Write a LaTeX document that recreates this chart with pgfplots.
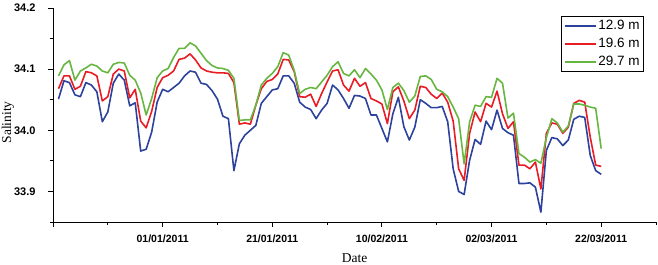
\documentclass[border=0pt]{standalone}
\usepackage{fontspec}
\setmainfont{Liberation Serif}
\newfontfamily\arial{Liberation Sans}
\usepackage{pgfplots}
\usepackage{pgfplotstable}
\pgfplotsset{compat=1.18}
\definecolor{cblue}{RGB}{44,66,156}
\definecolor{cred}{RGB}{232,28,36}
\definecolor{cgreen}{RGB}{104,182,66}
\pgfplotstableread{
d b r g
-19 34.051 34.068 34.089
-18 34.081 34.089 34.107
-17 34.078 34.089 34.114
-16 34.058 34.067 34.082
-15 34.055 34.072 34.097
-14 34.078 34.096 34.102
-13 34.074 34.094 34.108
-12 34.063 34.089 34.105
-11 34.014 34.048 34.097
-10 34.030 34.055 34.094
-9 34.077 34.092 34.108
-8 34.092 34.100 34.111
-7 34.082 34.097 34.110
-6 34.040 34.053 34.090
-5 34.045 34.067 34.082
-4 33.966 34.015 34.061
-3 33.969 34.004 34.025
-2 33.997 34.031 34.052
-1 34.046 34.070 34.086
0 34.067 34.086 34.097
1 34.063 34.090 34.101
2 34.070 34.097 34.119
3 34.077 34.116 34.134
4 34.089 34.118 34.134
5 34.097 34.125 34.143
6 34.095 34.115 34.138
7 34.077 34.102 34.126
8 34.075 34.097 34.114
9 34.065 34.095 34.106
10 34.051 34.094 34.102
11 34.023 34.094 34.101
12 34.019 34.093 34.098
13 33.934 34.078 34.085
14 33.978 34.010 34.016
15 33.992 34.012 34.017
16 34.000 34.010 34.017
17 34.008 34.041 34.041
18 34.044 34.068 34.074
19 34.055 34.080 34.085
20 34.066 34.083 34.093
21 34.068 34.092 34.104
22 34.089 34.116 34.127
23 34.089 34.115 34.123
24 34.077 34.096 34.098
25 34.046 34.055 34.060
26 34.038 34.054 34.067
27 34.034 34.059 34.070
28 34.019 34.039 34.068
29 34.033 34.060 34.079
30 34.044 34.079 34.090
31 34.074 34.097 34.104
32 34.066 34.099 34.112
33 34.052 34.074 34.093
34 34.036 34.064 34.089
35 34.057 34.085 34.099
36 34.056 34.072 34.086
37 34.052 34.078 34.101
38 34.025 34.052 34.092
39 34.025 34.048 34.082
40 34.003 34.043 34.066
41 33.981 34.011 34.034
42 34.027 34.063 34.070
43 34.054 34.071 34.077
44 34.006 34.048 34.065
45 33.984 34.019 34.046
46 34.005 34.033 34.056
47 34.050 34.072 34.088
48 34.044 34.070 34.089
49 34.037 34.059 34.083
50 34.037 34.052 34.067
51 34.039 34.061 34.063
52 34.014 34.046 34.055
53 33.937 34.015 34.038
54 33.900 33.937 34.019
55 33.895 33.918 33.945
56 33.951 33.995 34.014
57 33.985 34.030 34.041
58 33.977 34.014 34.039
59 34.015 34.044 34.055
60 34.001 34.038 34.054
61 34.033 34.064 34.085
62 34.003 34.027 34.077
63 33.996 34.003 34.020
64 33.992 34.014 34.028
65 33.913 33.943 33.962
66 33.913 33.943 33.956
67 33.914 33.937 33.948
68 33.907 33.948 33.952
69 33.866 33.904 33.946
70 33.967 33.995 33.988
71 33.988 34.012 34.019
72 33.986 34.010 34.012
73 33.975 33.995 33.997
74 33.984 34.005 34.007
75 34.018 34.044 34.043
76 34.023 34.049 34.043
77 34.021 34.046 34.041
78 33.959 33.989 34.038
79 33.934 33.943 34.036
80 33.928 33.941 33.970
}\datatable
\begin{document}
\begin{tikzpicture}
\begin{axis}[
  name=ax,
  scale only axis,
  width=603pt, height=214pt,
  xmin=-20, xmax=90, ymin=33.85, ymax=34.2,
  axis lines=left,
  axis line style={-, line width=0.9pt, black},
  tick align=outside,
  major tick length=5pt, minor tick length=3pt,
  tick style={black, line width=0.9pt},
  xtick={-20,0,20,40,60,80},
  xticklabels={,01/01/2011,21/01/2011,10/02/2011,02/03/2011,22/03/2011},
  minor xtick={-10,10,30,50,70,90},
  ytick={33.9,34.0,34.1,34.2},
  yticklabels={33.9,34.0,34.1,34.2},
  minor ytick={33.85,33.95,34.05,34.15},
  ticklabel style={font=\arial\bfseries\fontsize{10.5}{12}\selectfont},
  yticklabel style={font=\arial\bfseries\fontsize{11}{12}\selectfont, xshift=-9pt},
  xticklabel style={yshift=-4pt},
  /pgf/number format/assume math mode=true,
  xlabel={Date}, ylabel={Salinity},
  label style={font=\fontsize{13.5}{15}\selectfont},
  xlabel style={at={(axis description cs:0.5,-0.17)}, anchor=center},
  ylabel style={at={(axis description cs:-0.0746,0.465)}, anchor=center},
  legend style={at={(0.980,0.962)}, anchor=north east, draw=black, line width=0.6pt,
    font=\arial\fontsize{13.5}{15}\selectfont, inner sep=2pt, row sep=3pt,
    nodes={inner sep=2pt}},
  legend cell align=left,
  legend image code/.code={\draw[#1, line width=1.6pt] (0pt,0pt) -- (31pt,0pt);},
]
\addplot[cblue, no markers, line width=1.6pt, line join=round] table[x=d, y=b] {\datatable};
\addlegendentry{12.9 m}
\addplot[cred, no markers, line width=1.6pt, line join=round] table[x=d, y=r] {\datatable};
\addlegendentry{19.6 m}
\addplot[cgreen, no markers, line width=1.6pt, line join=round] table[x=d, y=g] {\datatable};
\addlegendentry{29.7 m}
\end{axis}
\pgfresetboundingbox
\path ([shift={(-53pt,-43pt)}]ax.south west) rectangle ([shift={(2pt,8pt)}]ax.north east);
\end{tikzpicture}
\end{document}
